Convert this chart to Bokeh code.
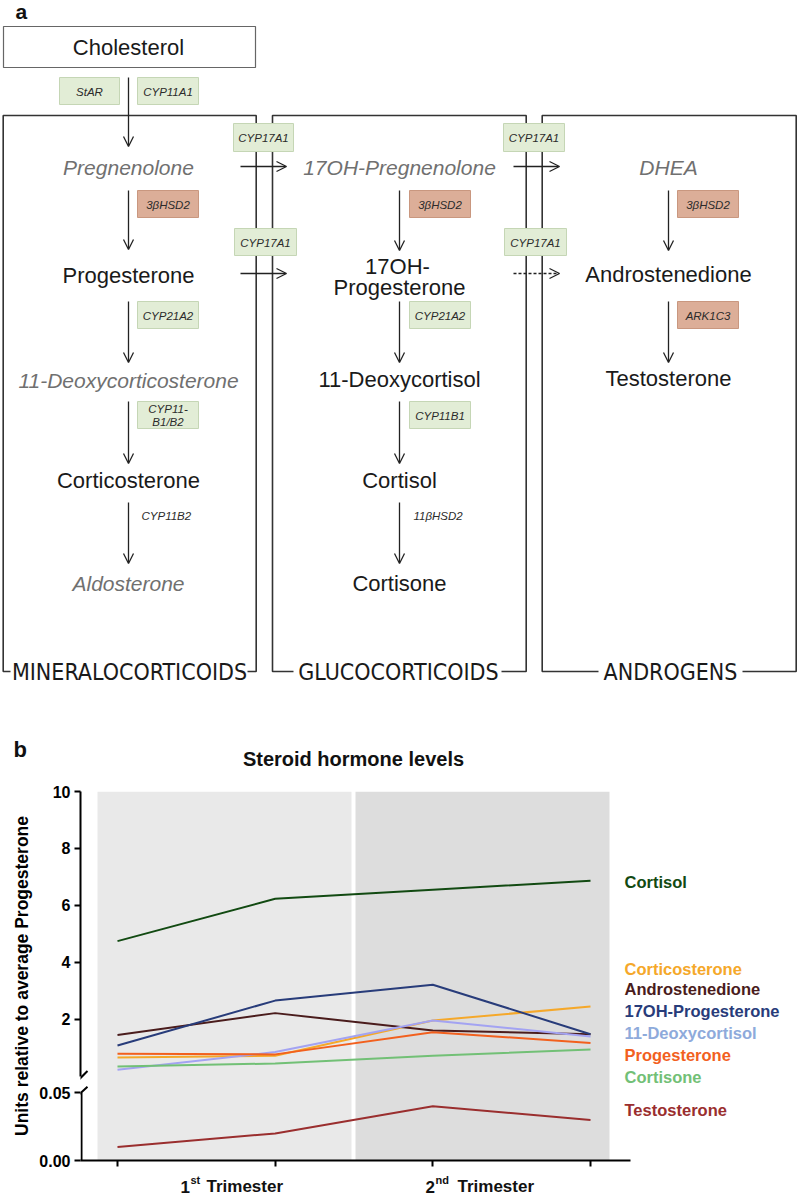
from bokeh.plotting import figure
from bokeh.models import Range1d, Arrow, OpenHead, FixedTicker
from bokeh.layouts import column
from bokeh.core.properties import value
from bokeh.embed import file_html
from bokeh.resources import INLINE

# ---------------- data: panel b ----------------
time_points = [0, 1, 2, 3]
trimester_parts = [("1", "st", "Trimester"), ("2", "nd", "Trimester")]
upper_ticks = [2, 4, 6, 8, 10]
lower_ticks = [0.00, 0.05]
lower_tick_labels = ["0.00", "0.05"]

cortisol = [4.74, 6.23, 6.55, 6.86]
corticosterone = [0.65, 0.71, 1.95, 2.44]
androstenedione = [1.44, 2.21, 1.60, 1.47]
oh_progesterone = [1.07, 2.65, 3.21, 1.47]
deoxycortisol = [0.22, 0.84, 1.95, 1.39]
progesterone = [0.78, 0.76, 1.54, 1.16]
cortisone = [0.33, 0.44, 0.71, 0.93]
testosterone = [0.010, 0.020, 0.040, 0.030]

series_names = ["Cortisol", "Corticosterone", "Androstenedione", "17OH-Progesterone",
                "11-Deoxycortisol", "Progesterone", "Cortisone", "Testosterone"]

# ---------------- styles / layout ----------------
FONT_NAME = "Liberation Sans"
FONT = value(FONT_NAME)
COND = value("Liberation Sans Narrow, DejaVu Sans Condensed, Liberation Sans")

line_colors = {"Cortisol": "#124a12", "Corticosterone": "#f5a82a", "Androstenedione": "#4a1c1c",
               "17OH-Progesterone": "#283c7a", "11-Deoxycortisol": "#a3a3f2",
               "Progesterone": "#f2601e", "Cortisone": "#72c076", "Testosterone": "#9a2e2e"}
label_colors = dict(line_colors)
label_colors["11-Deoxycortisol"] = "#8eaadb"
label_ref_y = {"Cortisol": 881, "Corticosterone": 968, "Androstenedione": 988,
               "17OH-Progesterone": 1010, "11-Deoxycortisol": 1032, "Progesterone": 1054,
               "Cortisone": 1076, "Testosterone": 1109}
series_values = {"Cortisol": cortisol, "Corticosterone": corticosterone,
                 "Androstenedione": androstenedione, "17OH-Progesterone": oh_progesterone,
                 "11-Deoxycortisol": deoxycortisol, "Progesterone": progesterone,
                 "Cortisone": cortisone}

W = 798
A_H = 772          # panel a (plus panel b heading) height
B_TOP = A_H
FRAME_TOP, FRAME_BOT = 791, 1160
B_H = FRAME_BOT - B_TOP + 8
C_H = 32

# ================= panel a: pathway diagram =================
pa = figure(width=W, height=A_H, x_range=Range1d(0, W), y_range=Range1d(A_H, 0),
            x_axis_type=None, y_axis_type=None, toolbar_location=None, title=None,
            output_backend="svg", min_border=0, outline_line_color=None)

pa.text(x=[15], y=[11], text=["a"], text_font=FONT, text_font_style="bold",
        text_font_size="21px", text_baseline="middle", text_color="#111111")

# section brackets
sections = [("MINERALOCORTICOIDS", 2.7, 255.7, 10, 247, 129),
            ("GLUCOCORTICOIDS", 272, 525.7, 293, 501, 398),
            ("ANDROGENS", 541.7, 795.7, 598, 742, 670)]
SEC_TOP, SEC_BOT = 115, 671
xs, ys = [], []
for name, l, r, lstub, rstub, cx in sections:
    xs.append([lstub, l, l, r, r, rstub])
    ys.append([SEC_BOT, SEC_BOT, SEC_TOP, SEC_TOP, SEC_BOT, SEC_BOT])
pa.multi_line(xs, ys, line_color="#333333", line_width=1.6)
pa.text(x=[s[5] for s in sections], y=[SEC_BOT] * 3, text=[s[0] for s in sections],
        text_font=COND, text_font_size="23px", text_align="center",
        text_baseline="middle", text_color="#1a1a1a")

# cholesterol box
pa.quad(left=[3], right=[255], top=[26], bottom=[67], fill_color="white",
        line_color="#666666", line_width=1.2)

# arrows
v_arrows = [(128, 77, 146), (128, 190, 249), (128, 301, 362), (128, 401, 463), (128, 502, 563),
            (399, 190, 250), (399, 301, 362), (399, 401, 463), (399, 502, 563),
            (668, 190, 250), (668, 301, 362)]
for x, y0, y1 in v_arrows:
    pa.add_layout(Arrow(end=OpenHead(size=10, line_width=1.3, line_color="#222222"),
                        x_start=x, y_start=y0, x_end=x, y_end=y1,
                        line_width=1.3, line_color="#222222"))
h_arrows = [(240, 286, 166, False), (513, 559, 166, False),
            (240, 286, 273, False), (513, 559, 273, True)]
for x0, x1, y, dashed in h_arrows:
    pa.add_layout(Arrow(end=OpenHead(size=10, line_width=1.3, line_color="#222222"),
                        x_start=x0, y_start=y, x_end=x1, y_end=y,
                        line_width=1.3, line_color="#222222",
                        line_dash="3 2" if dashed else "solid"))

# enzyme boxes
enzymes = [("StAR", 59, 119, 77, 104, "g"), ("CYP11A1", 137, 198, 77, 104, "g"),
           ("CYP17A1", 233, 293, 123, 151, "g"), ("CYP17A1", 503, 564, 123, 151, "g"),
           ("3βHSD2", 137, 198, 190, 217, "r"), ("3βHSD2", 409, 470, 190, 217, "r"),
           ("3βHSD2", 677, 738, 190, 217, "r"),
           ("CYP17A1", 234, 296, 228, 255, "g"), ("CYP17A1", 504, 566, 228, 255, "g"),
           ("CYP21A2", 137, 198, 301, 328, "g"), ("CYP21A2", 409, 470, 301, 328, "g"),
           ("ARK1C3", 677, 738, 301, 328, "r"),
           ("CYP11-\nB1/B2", 137, 198, 401, 428, "g"), ("CYP11B1", 409, 470, 401, 428, "g")]
fills = {"g": "#e2edd6", "r": "#dcae98"}
edges = {"g": "#c5d6b5", "r": "#c9977f"}
pa.quad(left=[e[1] for e in enzymes], right=[e[2] for e in enzymes],
        top=[e[3] for e in enzymes], bottom=[e[4] for e in enzymes],
        fill_color=[fills[e[5]] for e in enzymes], line_color=[edges[e[5]] for e in enzymes],
        line_width=1)
pa.text(x=[(e[1] + e[2]) / 2 for e in enzymes], y=[(e[3] + e[4]) / 2 + 0.5 for e in enzymes],
        text=[e[0] for e in enzymes], text_font=FONT, text_font_style="italic",
        text_font_size="11.5px", text_align="center", text_baseline="middle",
        text_line_height=1.05, text_color="#2b2b2b")
pa.text(x=[141, 413], y=[515, 515], text=["CYP11B2", "11βHSD2"], text_font=FONT,
        text_font_style="italic", text_font_size="11.5px", text_baseline="middle",
        text_color="#2b2b2b")

# compounds
compounds = [("Cholesterol", 128, 47, "reg"), ("Pregnenolone", 128, 167, "lit"),
             ("17OH-Pregnenolone", 399, 167, "lit"), ("DHEA", 668, 167, "lit"),
             ("Progesterone", 128, 275, "reg"), ("17OH-", 397, 266, "reg"),
             ("Progesterone", 399, 287, "reg"), ("Androstenedione", 668, 274, "reg"),
             ("11-Deoxycorticosterone", 128, 380, "lit"), ("11-Deoxycortisol", 399, 379, "reg"),
             ("Testosterone", 668, 378, "reg"), ("Corticosterone", 128, 480, "reg"),
             ("Cortisol", 399, 480, "reg"), ("Aldosterone", 128, 583, "lit"),
             ("Cortisone", 399, 583, "reg")]
reg = [c for c in compounds if c[3] == "reg"]
lit = [c for c in compounds if c[3] == "lit"]
pa.text(x=[c[1] for c in reg], y=[c[2] for c in reg], text=[c[0] for c in reg],
        text_font=FONT, text_font_size="22px", text_align="center",
        text_baseline="middle", text_color="#1a1a1a")
pa.text(x=[c[1] for c in lit], y=[c[2] for c in lit], text=[c[0] for c in lit],
        text_font=FONT, text_font_style="italic", text_font_size="21px",
        text_align="center", text_baseline="middle", text_color="#707070")

# panel b heading (lives above panel b's frame)
pa.text(x=[13], y=[749], text=["b"], text_font=FONT, text_font_style="bold",
        text_font_size="22px", text_baseline="middle", text_color="#111111")
pa.text(x=[353], y=[758], text=["Steroid hormone levels"], text_font=FONT,
        text_font_style="bold", text_font_size="20px", text_align="center",
        text_baseline="middle", text_color="#111111")

# ================= panel b: line chart with broken axis =================
PX_PER_X = 157.67
FRAME_LEFT = 80


def xref(px):
    return (px - 117) / PX_PER_X


X0 = xref(FRAME_LEFT)
X1 = xref(W)
up_px = 28.45
UP_START = round(10 - (FRAME_BOT - FRAME_TOP) / up_px, 4)
low_px = 67.7 / 0.05
LOW_END = (FRAME_BOT - FRAME_TOP) / low_px
# positions of the lower-segment ticks expressed on the upper scale (for the tick labels)
low_tick_pos = [round(UP_START + t * low_px / up_px, 4) for t in lower_ticks]


def yref_up(ref_y):
    return 10 - (ref_y - FRAME_TOP) / up_px


pb = figure(width=W, height=B_H, x_range=Range1d(X0, X1), y_range=Range1d(UP_START, 10),
            toolbar_location=None, title=None, output_backend="svg", outline_line_color=None,
            min_border_left=FRAME_LEFT, min_border_right=0,
            min_border_top=FRAME_TOP - B_TOP, min_border_bottom=B_H - (FRAME_BOT - B_TOP))
pb.extra_y_ranges = {"low": Range1d(0, LOW_END)}
pb.grid.visible = False

# trimester background bands
pb.quad(left=[xref(97), xref(355)], right=[xref(351), xref(609)], bottom=UP_START, top=10,
        fill_color=["#e9e9e9", "#dddddd"], line_color=None)

for name in series_names[:-1]:
    pb.line(time_points, series_values[name], line_color=line_colors[name], line_width=2)
pb.line(time_points, testosterone, line_color=line_colors["Testosterone"], line_width=2,
        y_range_name="low")

# y axis (upper segment real axis line, ticks for both segments)
ya = pb.yaxis[0]
ya.ticker = FixedTicker(ticks=low_tick_pos + upper_ticks)
ya.major_label_overrides = {p: lab for p, lab in zip(low_tick_pos, lower_tick_labels)}
ya.bounds = (0, 10)
ya.axis_line_width = 2
ya.axis_line_color = "black"
ya.major_tick_line_width = 2
ya.major_tick_out = 6
ya.major_tick_in = 0
ya.minor_tick_line_color = None
ya.major_label_standoff = 4
ya.major_label_text_font = FONT_NAME
ya.major_label_text_font_style = "bold"
ya.major_label_text_font_size = "16px"
ya.major_label_text_color = "black"
ya.axis_label = "Units relative to average Progesterone"
ya.axis_label_text_font = FONT_NAME
ya.axis_label_text_font_style = "bold"
ya.axis_label_text_font_size = "17.5px"
ya.axis_label_text_color = "black"
ya.axis_label_standoff = 4

xa = pb.xaxis[0]
xa.ticker = FixedTicker(ticks=time_points)
xa.bounds = (X0, xref(630))
xa.axis_line_width = 2
xa.axis_line_color = "black"
xa.major_tick_line_width = 2
xa.major_tick_out = 6
xa.major_tick_in = 0
xa.minor_tick_line_color = None
xa.major_label_standoff = 0
xa.major_label_text_font_size = "0px"
xa.major_label_text_color = None

# lower axis segment line and break marks
pb.segment(x0=[X0 + 1 / PX_PER_X], y0=[lower_ticks[0]], x1=[X0 + 1 / PX_PER_X],
           y1=[lower_ticks[-1]], y_range_name="low", line_width=2, line_color="black")
pb.segment(x0=[X0 - 3 / PX_PER_X], y0=[-5 / up_px], x1=[X0 + 7 / PX_PER_X], y1=[5 / up_px],
           line_width=2, line_color="black")
pb.segment(x0=[X0 - 3 / PX_PER_X], y0=[lower_ticks[-1] - 3 / low_px], x1=[X0 + 7 / PX_PER_X],
           y1=[lower_ticks[-1] + 6 / low_px], y_range_name="low",
           line_width=2, line_color="black")

# series labels on the right
pb.text(x=[xref(624)] * len(series_names), y=[yref_up(label_ref_y[n]) for n in series_names],
        text=series_names, text_baseline="middle", text_font=FONT, text_font_style="bold",
        text_font_size="16.5px", text_color=[label_colors[n] for n in series_names])

# ================= x category labels (strip below panel b) =================
pc = figure(width=W, height=C_H, x_range=pb.x_range, y_range=Range1d(C_H, 0),
            x_axis_type=None, y_axis_type=None, toolbar_location=None, title=None,
            output_backend="svg", min_border_left=FRAME_LEFT, min_border_right=0,
            min_border_top=0, min_border_bottom=0, outline_line_color=None)
tri_pos = [(180, 190, 206), (425, 435, 457)]
BASE = 18          # baseline, pixels below the top of the strip
for (big, sup, rest), (xb, xs_, xr) in zip(trimester_parts, tri_pos):
    pc.text(x=[xref(xb), xref(xr)], y=[BASE, BASE], text=[big, rest], text_font=FONT,
            text_font_style="bold", text_font_size="17px", text_baseline="alphabetic",
            text_color="#111111")
    pc.text(x=[xref(xs_)], y=[BASE - 7], text=[sup], text_font=FONT, text_font_style="bold",
            text_font_size="11px", text_baseline="alphabetic", text_color="#111111")

open("out.html", "w").write(file_html([pa, column(pb, pc)], INLINE))
